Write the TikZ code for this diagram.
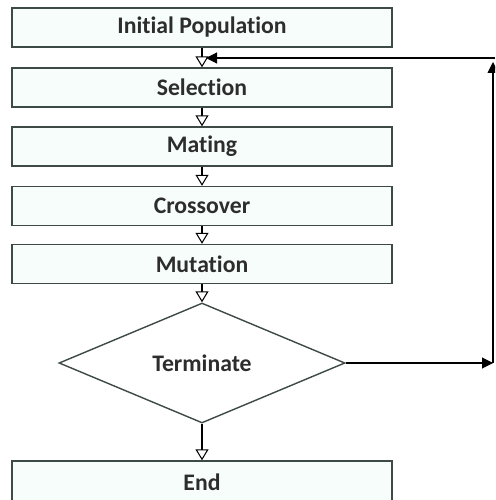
\documentclass[tikz,border=0pt]{standalone}
\usepackage{fontspec}
\setmainfont{Carlito}[Ligatures={NoCommon}]
\usetikzlibrary{shapes.geometric, arrows.meta, positioning}
\definecolor{boxline}{RGB}{62,74,70}
\definecolor{boxfill}{RGB}{247,253,250}
\definecolor{labeltext}{RGB}{45,45,45}

\begin{document}
\begin{tikzpicture}[
  stage/.style={rectangle, draw=boxline, fill=boxfill, thick, minimum width=7.6cm, minimum height=0.78cm, inner sep=0pt, text=labeltext, font=\fontsize{13.5}{15}\selectfont\bfseries},
  decision/.style={diamond, draw=boxline, fill=white, thick, minimum width=5.72cm, minimum height=2.4cm, aspect=2.38, inner sep=0pt, text=labeltext, font=\fontsize{13.5}{15}\selectfont\bfseries},
  link/.style={-{Triangle[open, width=2.6mm, length=2.2mm]}, draw=black, semithick},
  loop/.style={-{Triangle[width=2.2mm, length=2.2mm]}, draw=black, semithick}
]
\useasboundingbox (0,0) rectangle (9.9,-10);
\clip (0,0) rectangle (9.9,-10);

% Stages
\node[stage] (init) at (4.04,-0.55) {Initial Population};
\node[stage] (sel) at (4.04,-1.75) {Selection};
\node[stage] (mate) at (4.04,-2.93) {Mating};
\node[stage] (cross) at (4.04,-4.12) {Crossover};
\node[stage] (mut) at (4.04,-5.28) {Mutation};

% Decision
\node[decision] (term) at (4.04,-7.26) {Terminate};

% End
\node[stage, minimum height=0.84cm] (done) at (4.04,-9.64) {End};

% Flow
\draw[link] (init) -- (sel);
\draw[link] (sel) -- (mate);
\draw[link] (mate) -- (cross);
\draw[link] (cross) -- (mut);
\draw[link] (mut) -- (term);
\draw[link] (term) -- (done);

% Loop back
\coordinate (right) at (9.86,-7.26);
\coordinate (top) at (9.86,-1.24);
\coordinate (edge) at (9.9,-1.16);
\coordinate (join) at (4.12,-1.16);
\draw[loop] (term.east) -- (right);
\draw[loop] (right) -- (top);
\draw[loop] (edge) -- (join);

\end{tikzpicture}
\end{document}
